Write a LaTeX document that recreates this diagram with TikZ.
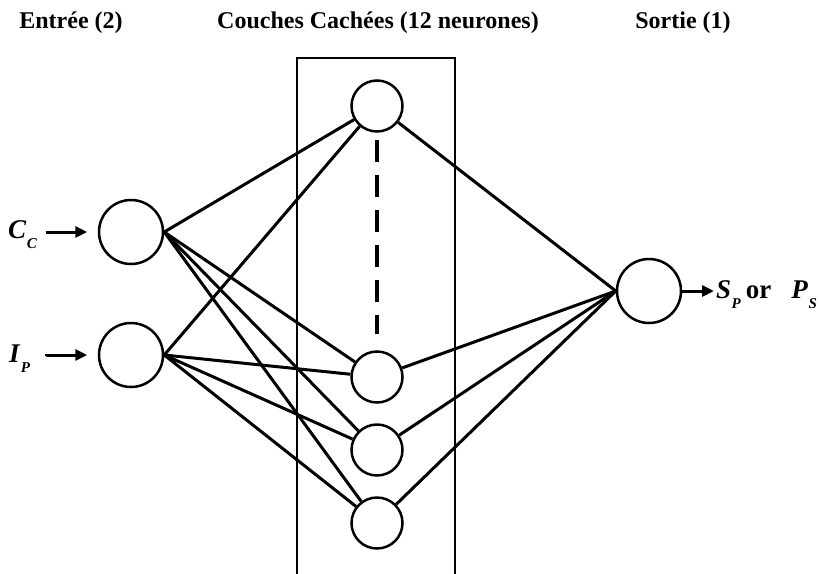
\documentclass[tikz,border=0pt]{standalone}
\usepackage{fontspec}
\setmainfont{Liberation Serif}
\usetikzlibrary{arrows.meta}
% variable with a lowered italic subscript
\newcommand\subvar[2]{\textit{#1}\kern0.5pt\raisebox{-10pt}{\fontsize{15}{15}\selectfont\textit{#2}}}

\begin{document}
\begin{tikzpicture}[x=1pt,y=-1pt,
  neuron/.style={draw, circle, line width=2.5pt, inner sep=0pt, minimum size=#1},
  link/.style={line width=3pt},
  title/.style={font=\fontsize{24}{24}\selectfont\bfseries, anchor=base, inner sep=0pt},
  var/.style={font=\fontsize{27}{27}\selectfont\bfseries, inner sep=0pt, anchor=base west},
  feed/.style={line width=3pt, -{Triangle[length=12pt,width=11pt]}}]
\useasboundingbox (0,0) rectangle (819,573);

% column titles
\node[title] (tin)  at (71,28)  {Entrée (2)};
\node[title] (thid) at (378,28) {Couches Cachées (12 neurones)};
\node[title] (tout) at (683,28) {Sortie (1)};

% frame around the hidden layer (open at the bottom)
\draw[line width=2.5pt] (297,576) -- (297,58) -- (455,58) -- (455,576);

% neurons
\node[neuron=64pt] (cc) at (131,232) {};
\node[neuron=64pt] (ip) at (131,355) {};
\node[neuron=51pt] (h1) at (377,106) {};
\node[neuron=51pt] (h2) at (377,377) {};
\node[neuron=51pt] (h3) at (377,450) {};
\node[neuron=51pt] (h4) at (377,523) {};
\node[neuron=64pt] (out) at (649,291) {};

% weights
\foreach \h in {h1,h2,h3,h4}{
  \draw[link] (cc.east) -- (\h);
  \draw[link] (ip.east) -- (\h);
  \draw[link] (\h) -- (out.west);
}

% remaining hidden neurons
\draw[line width=3.2pt, dash pattern=on 22pt off 13pt, shorten <=7pt, shorten >=16pt] (h1) -- (h2);

% inputs
\node[var] (cclbl) at (8,238) {\subvar{C}{C}};
\node[var] (iplbl) at (9,362) {\subvar{I}{P}};
\coordinate (ccsrc) at (46,232);
\coordinate (ipsrc) at (46,356);
\draw[feed, shorten >=10.5pt] (ccsrc) -- (cc.west);
\draw[feed, shorten >=10.5pt] (ipsrc) -- (ccsrc |- ip.west) -- (ip.west);

% output
\coordinate (outtip) at (714,291);
\draw[feed] (out.east) -- (outtip);
\node[var] (outlbl) at (716,298) {\subvar{S}{P}\hspace{5pt}or\hspace{20pt}\subvar{P}{S}};
\end{tikzpicture}
\end{document}
